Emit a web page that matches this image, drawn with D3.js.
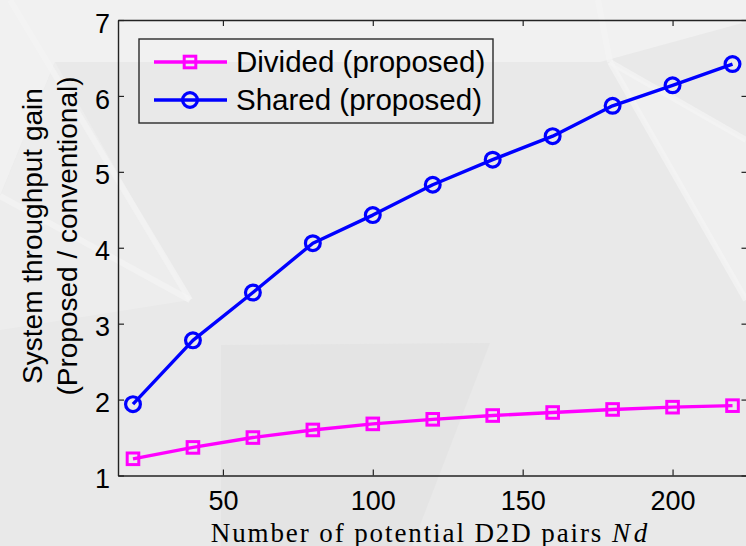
<!DOCTYPE html>
<html>
<head>
<meta charset="utf-8">
<script src="https://cdn.jsdelivr.net/npm/d3@7"></script>
<style>
  html, body { margin: 0; padding: 0; background: #eaeaea; }
  svg { display: block; }
</style>
</head>
<body>
<svg id="chart" width="746" height="546"></svg>
<script>
// Number of potential D2D pairs
const pairCounts = [20, 40, 60, 80, 100, 120, 140, 160, 180, 200, 220];
// Throughput gain, proposed over conventional
const dividedGain = [1.22, 1.37, 1.50, 1.60, 1.68, 1.74, 1.79, 1.83, 1.87, 1.90, 1.92];
const sharedGain  = [1.94, 2.78, 3.41, 4.06, 4.43, 4.83, 5.16, 5.47, 5.87, 6.14, 6.42];
const seriesNames = ["Divided (proposed)", "Shared (proposed)"];
const xTickValues = [50, 100, 150, 200];
const yTickValues = [1, 2, 3, 4, 5, 6, 7];

const svg = d3.select("#chart");
const W = 746, H = 546;

// Faceted slide backdrop
const backdrop = svg.append("g");
backdrop.append("rect").attr("width", W).attr("height", H).attr("fill", "#e9e9e9");
const facets = [
  { pts: [[0,0],[746,0],[746,22],[600,62],[55,62],[0,196]], fill: "#f1f1f1" },
  { pts: [[0,196],[55,62],[190,300],[0,330]], fill: "#ededed" },
  { pts: [[221,345],[490,343],[412,546],[221,546]], fill: "#e4e4e4" },
  { pts: [[610,62],[746,140],[746,300]], fill: "#efefef" }
];
backdrop.selectAll("polygon").data(facets).join("polygon")
  .attr("points", d => d.pts.map(p => p.join(",")).join(" "))
  .attr("fill", d => d.fill);
const streaks = [
  [[10,0],[190,300]],
  [[0,196],[190,300]],
  [[598,0],[610,62]],
  [[610,62],[746,140]],
  [[610,62],[746,300]]
];
backdrop.selectAll("line").data(streaks).join("line")
  .attr("x1", d => d[0][0]).attr("y1", d => d[0][1])
  .attr("x2", d => d[1][0]).attr("y2", d => d[1][1])
  .attr("stroke", "#f5f5f5").attr("stroke-width", 6).attr("opacity", 0.7);

// Plot frame
const plotLeft = 118, plotRight = 747.5, plotTop = 20, plotBottom = 475.5;
const x = d3.scaleLinear().domain([15, 225]).range([plotLeft, plotRight]);
const y = d3.scaleLinear().domain([1, 7]).range([plotBottom, plotTop]);

const axisColor = "#222";
const tickFont = "Liberation Sans, Arial, Helvetica, sans-serif";

function styleAxis(g) {
  g.selectAll("path.domain").attr("stroke", axisColor).attr("stroke-width", 1.4);
  g.selectAll(".tick line").attr("stroke", axisColor).attr("stroke-width", 1.2);
  g.selectAll(".tick text").attr("fill", "#000")
    .style("font-family", tickFont).style("font-size", "27px");
}

svg.append("g").attr("transform", `translate(0,${plotBottom})`)
  .call(d3.axisBottom(x).tickValues(xTickValues).tickFormat(d3.format("d"))
    .tickSizeInner(-6).tickSizeOuter(0).tickPadding(15))
  .call(styleAxis);
svg.append("g").attr("transform", `translate(0,${plotTop})`)
  .call(d3.axisTop(x).tickValues(xTickValues).tickSizeInner(-6).tickSizeOuter(0).tickFormat(""))
  .call(styleAxis);
svg.append("g").attr("transform", `translate(${plotLeft},0)`)
  .call(d3.axisLeft(y).tickValues(yTickValues).tickFormat(d3.format("d"))
    .tickSizeInner(-6).tickSizeOuter(0).tickPadding(8))
  .call(styleAxis)
  .selectAll(".tick text").attr("dy", "0.45em");
svg.append("g").attr("transform", `translate(${plotRight},0)`)
  .call(d3.axisRight(y).tickValues(yTickValues).tickSizeInner(-6).tickSizeOuter(0).tickFormat(""))
  .call(styleAxis);

// Axis titles
const yTitle = svg.append("text")
  .attr("transform", "translate(0,236) rotate(-90)")
  .attr("text-anchor", "middle")
  .style("font-family", tickFont).style("font-size", "28px").attr("fill", "#000");
yTitle.append("tspan").attr("x", 0).attr("y", 42).text("System throughput gain");
yTitle.append("tspan").attr("x", 0).attr("y", 77).text("(Proposed / conventional)");

const xTitle = svg.append("text")
  .attr("x", 430).attr("y", 541.5)
  .attr("text-anchor", "middle")
  .style("font-family", "Liberation Serif, Times New Roman, serif").style("font-size", "27px")
  .style("letter-spacing", "1.9px")
  .attr("fill", "#000");
xTitle.append("tspan").text("Number of potential D2D pairs ");
xTitle.append("tspan").style("font-style", "italic").text("N");
xTitle.append("tspan").attr("dx", 2).style("font-style", "italic").text("d");

// Series
const series = [
  { name: seriesNames[0], values: dividedGain, color: "#ff00ff", marker: "square" },
  { name: seriesNames[1], values: sharedGain, color: "#0000ff", marker: "circle" }
];

const line = d3.line().x(d => x(d[0])).y(d => y(d[1]));

function drawMarker(g, kind, color) {
  if (kind === "square") {
    g.append("rect").attr("x", -5.8).attr("y", -5.8).attr("width", 11.6).attr("height", 11.6)
      .attr("fill", "none").attr("stroke", color).attr("stroke-width", 3);
  } else {
    g.append("circle").attr("r", 7.4)
      .attr("fill", "none").attr("stroke", color).attr("stroke-width", 3.2);
  }
}

series.forEach(s => {
  const pts = pairCounts.map((n, i) => [n, s.values[i]]);
  svg.append("path").datum(pts).attr("d", line)
    .attr("fill", "none").attr("stroke", s.color).attr("stroke-width", 3.4)
    .attr("stroke-linejoin", "round");
  svg.append("g").selectAll("g").data(pts).join("g")
    .attr("transform", d => `translate(${x(d[0])},${y(d[1])})`)
    .each(function() { drawMarker(d3.select(this), s.marker, s.color); });
});

// Legend
const legend = svg.append("g");
legend.append("rect").attr("x", 139).attr("y", 39).attr("width", 354).attr("height", 84)
  .attr("fill", "none").attr("stroke", "#2a2a2a").attr("stroke-width", 1.4);
series.forEach((s, i) => {
  const cy = 62 + i * 38;
  const row = legend.append("g");
  row.append("line").attr("x1", 154).attr("x2", 227).attr("y1", cy).attr("y2", cy)
    .attr("stroke", s.color).attr("stroke-width", 3.4);
  drawMarker(row.append("g").attr("transform", `translate(190,${cy})`), s.marker, s.color);
  row.append("text").attr("x", 236).attr("y", cy + 10)
    .style("font-family", tickFont).style("font-size", "29.5px").attr("fill", "#000")
    .text(s.name);
});
</script>
</body>
</html>
